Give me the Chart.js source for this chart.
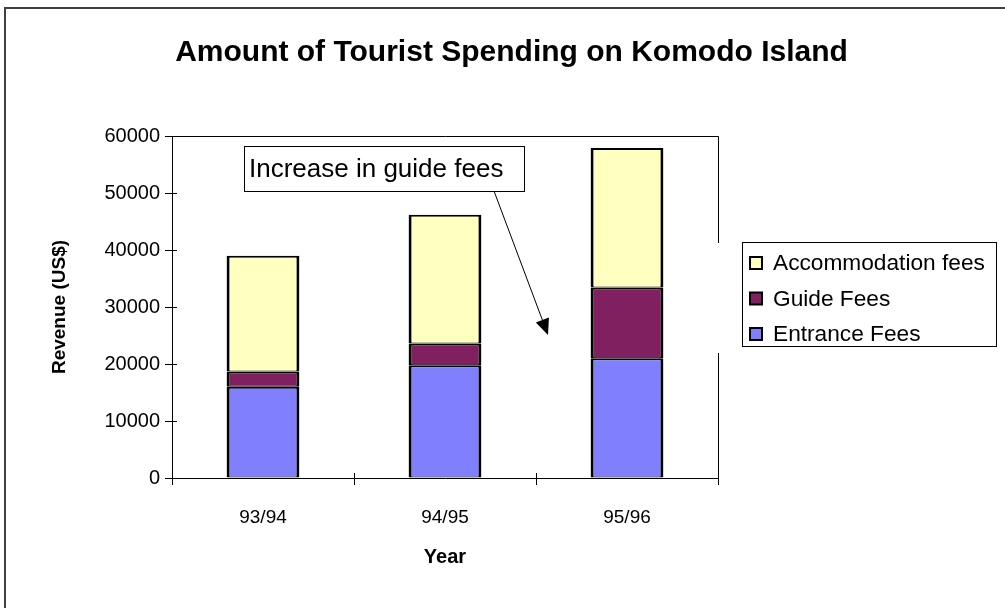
<!DOCTYPE html>
<html>
<head>
<meta charset="utf-8">
<script src="https://cdn.jsdelivr.net/npm/chart.js@4/dist/chart.umd.min.js"></script>
<style>
  html, body { margin: 0; padding: 0; background: #fff; }
  #wrap { width: 1005px; height: 608px; }
</style>
</head>
<body>
<div id="wrap"><canvas id="spendingChart" width="1005" height="608"></canvas></div>
<script>
// --- dados do gráfico ---
const years = ['93/94', '94/95', '95/96'];
const entranceFees = [16000, 19800, 21000];
const guideFees = [2700, 3800, 12400];
const accommodationFees = [20300, 22600, 24500];
const yTicks = [0, 10000, 20000, 30000, 40000, 50000, 60000];

const FONT = 'Arial, "Liberation Sans", sans-serif';

// moldura externa, moldura da área do gráfico, nota com seta e legenda
const extrasPlugin = {
    id: 'extras',
    beforeDraw(chart) {
        const ctx = chart.ctx;
        ctx.save();
        ctx.fillStyle = '#fff';
        ctx.fillRect(0, 0, chart.width, chart.height);
        ctx.strokeStyle = '#404040';
        ctx.lineWidth = 2;
        ctx.beginPath();
        ctx.moveTo(5, chart.height);
        ctx.lineTo(5, 8);
        ctx.lineTo(chart.width, 8);
        ctx.stroke();
        ctx.restore();
    },
    afterDraw(chart) {
        const ctx = chart.ctx;
        const a = chart.chartArea;
        const yScale = chart.scales.y;
        const xScale = chart.scales.x;
        ctx.save();

        // borda superior e direita da área de plotagem
        ctx.strokeStyle = '#000';
        ctx.lineWidth = 1;
        ctx.beginPath();
        ctx.moveTo(a.left, a.top + 0.5);
        ctx.lineTo(a.right + 0.5, a.top + 0.5);
        ctx.lineTo(a.right + 0.5, 243);
        ctx.moveTo(a.right + 0.5, 353);
        ctx.lineTo(a.right + 0.5, a.bottom);
        ctx.stroke();

        // pedaço interno das marcas dos eixos (marcas cruzadas)
        ctx.beginPath();
        yTicks.forEach(v => {
            const py = Math.round(yScale.getPixelForValue(v)) + 0.5;
            ctx.moveTo(a.left, py);
            ctx.lineTo(a.left + 5, py);
        });
        for (let i = 0; i <= years.length; i++) {
            const px = Math.round(xScale.getPixelForValue(i - 0.5)) + 0.5;
            ctx.moveTo(px, a.bottom);
            ctx.lineTo(px, a.bottom - 5);
        }
        ctx.stroke();

        // caixa de texto "Increase in guide fees"
        const bx = a.left + 72, by = a.top + 10, bw = 280, bh = 45;
        ctx.fillStyle = '#fff';
        ctx.fillRect(bx, by, bw, bh);
        ctx.strokeRect(bx + 0.5, by + 0.5, bw, bh);
        ctx.fillStyle = '#000';
        ctx.font = '26px ' + FONT;
        ctx.textBaseline = 'middle';
        ctx.fillText('Increase in guide fees', bx + 5, by + bh / 2 + 1);

        // seta
        const x0 = 494, y0 = by + bh, x1 = 548, y1 = 335;
        const ang = Math.atan2(y1 - y0, x1 - x0);
        const hl = 16, hw = 7;
        const bxh = x1 - hl * Math.cos(ang), byh = y1 - hl * Math.sin(ang);
        ctx.beginPath();
        ctx.moveTo(x0, y0);
        ctx.lineTo(bxh, byh);
        ctx.stroke();
        ctx.beginPath();
        ctx.moveTo(x1, y1);
        ctx.lineTo(bxh + hw * Math.sin(ang), byh - hw * Math.cos(ang));
        ctx.lineTo(bxh - hw * Math.sin(ang), byh + hw * Math.cos(ang));
        ctx.closePath();
        ctx.fill();

        // legenda (ordem invertida, como no Excel)
        const lx = 742, ly = 242, lw = 254, lh = 104;
        ctx.fillStyle = '#fff';
        ctx.fillRect(lx, ly, lw, lh);
        ctx.strokeRect(lx + 0.5, ly + 0.5, lw, lh);
        ctx.font = '22.7px ' + FONT;
        const items = chart.data.datasets.slice().reverse();
        items.forEach((ds, i) => {
            const cy = ly + 21 + i * 35.5;
            ctx.fillStyle = ds.backgroundColor;
            ctx.fillRect(lx + 8, cy - 6, 12, 12);
            ctx.lineWidth = 2;
            ctx.strokeStyle = '#000';
            ctx.strokeRect(lx + 8, cy - 6, 12, 12);
            ctx.fillStyle = '#000';
            ctx.fillText(ds.label, lx + 31, cy + 1);
        });
        ctx.restore();
    }
};

const ctx = document.getElementById('spendingChart').getContext('2d');
new Chart(ctx, {
    type: 'bar',
    data: {
        labels: years,
        datasets: [
            { label: 'Entrance Fees', data: entranceFees, backgroundColor: '#8080FF' },
            { label: 'Guide Fees', data: guideFees, backgroundColor: '#802060' },
            { label: 'Accommodation fees', data: accommodationFees, backgroundColor: '#FFFFC0' }
        ].map(ds => Object.assign(ds, {
            borderColor: '#000',
            borderWidth: { top: 2, bottom: 1, left: 3, right: 3 },
            borderSkipped: false,
            barPercentage: 0.4,
            categoryPercentage: 1.0
        }))
    },
    options: {
        responsive: false,
        animation: false,
        layout: { padding: { left: 18, right: 0, top: 0, bottom: 0 } },
        plugins: {
            legend: { display: false },
            tooltip: { enabled: false },
            title: {
                display: true,
                text: 'Amount of Tourist Spending on Komodo Island',
                color: '#000',
                font: { family: FONT, size: 30, weight: 'bold', lineHeight: 1.2 },
                padding: { top: 35, bottom: 65 }
            }
        },
        scales: {
            x: {
                stacked: true,
                grid: { display: true, drawOnChartArea: false, drawTicks: true, tickLength: 7, color: '#000', offset: true },
                border: { display: true, color: '#000', width: 1 },
                ticks: { color: '#000', font: { family: FONT, size: 19 }, padding: 21 },
                title: {
                    display: true, text: 'Year', color: '#000',
                    font: { family: FONT, size: 20, weight: 'bold', lineHeight: 1.2 },
                    padding: { top: 0, bottom: 39 }
                },
                afterFit(scale) { scale.height = 130; }
            },
            y: {
                stacked: true,
                min: 0,
                max: 60000,
                afterBuildTicks(scale) { scale.ticks = yTicks.map(v => ({ value: v })); },
                grid: { display: true, drawOnChartArea: false, drawTicks: true, tickLength: 7, color: '#000' },
                border: { display: true, color: '#000', width: 1 },
                ticks: {
                    color: '#000', font: { family: FONT, size: 20 }, padding: 5,
                    callback: v => String(v)
                },
                title: {
                    display: true, text: 'Revenue (US$)', color: '#000',
                    font: { family: FONT, size: 19, weight: 'bold', lineHeight: 1.2 },
                    padding: { top: 30, bottom: 0 }
                },
                afterFit(scale) { scale.width = 154; }
            },
            // eixo vazio à direita só para reservar espaço para a legenda
            spacer: {
                position: 'right',
                display: true,
                grid: { display: false },
                border: { display: false },
                ticks: { display: false },
                afterFit(scale) { scale.width = 287; }
            }
        }
    },
    plugins: [extrasPlugin]
});
</script>
</body>
</html>
